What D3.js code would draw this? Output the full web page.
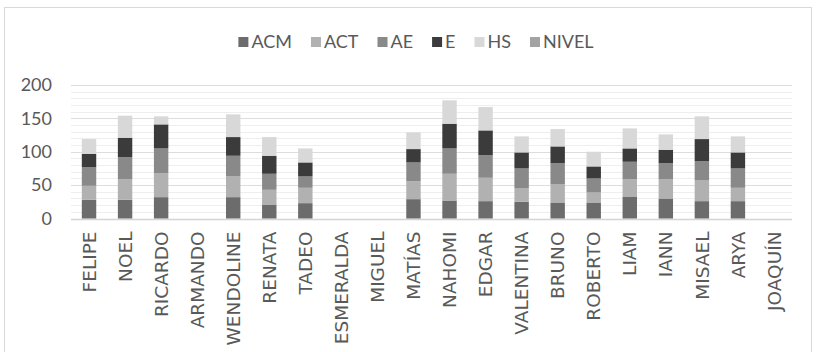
<!DOCTYPE html>
<html>
<head>
<meta charset="utf-8">
<script src="https://cdn.jsdelivr.net/npm/d3@7"></script>
<style>
  html, body { margin: 0; padding: 0; background: #fff; }
  svg { display: block; }
</style>
</head>
<body>
<svg id="chart" width="816" height="352"></svg>
<script>
// Students shown along the x axis
const students = ["FELIPE", "NOEL", "RICARDO", "ARMANDO", "WENDOLINE", "RENATA", "TADEO",
  "ESMERALDA", "MIGUEL", "MATÍAS", "NAHOMI", "EDGAR", "VALENTINA", "BRUNO", "ROBERTO",
  "LIAM", "IANN", "MISAEL", "ARYA", "JOAQUÍN"];

// Score series, stacked bottom to top in this order
const seriesNames = ["ACM", "ACT", "AE", "E", "HS", "NIVEL"];

const ACM   = [28, 28, 32, 0, 32, 21, 23, 0, 0, 29, 27, 26, 25, 24, 24, 33, 30, 26, 26, 0];
const ACT   = [21, 31, 36, 0, 31, 22, 23, 0, 0, 27, 40, 35, 20, 27, 15, 26, 29, 31, 20, 0];
const AE    = [28, 33, 37, 0, 31, 24, 17, 0, 0, 28, 38, 34, 30, 32, 21, 26, 24, 29, 29, 0];
const E     = [20, 29, 36, 0, 28, 27, 21, 0, 0, 20, 37, 37, 24, 25, 18, 20, 20, 33, 24, 0];
const HS    = [22, 33, 12, 0, 34, 28, 21, 0, 0, 25, 35, 35, 24, 26, 22, 30, 23, 34, 24, 0];
const NIVEL = [0, 0, 0, 0, 0, 0, 0, 0, 0, 0, 0, 0, 0, 0, 0, 0, 0, 0, 0, 0];

const yTicks = [0, 50, 100, 150, 200];
const yMinorTicks = d3.range(0, 201, 10);

const colors = ["#6c6c6c", "#b1b1b1", "#898989", "#3b3b3b", "#d8d8d8", "#a3a3a3"];

const valuesBySeries = { ACM, ACT, AE, E, HS, NIVEL };
const rows = students.map((name, i) => {
  const r = { name };
  seriesNames.forEach(s => { r[s] = valuesBySeries[s][i]; });
  return r;
});

const svg = d3.select("#chart");

// outer frame
svg.append("rect")
  .attr("x", 4.5).attr("y", 7.5)
  .attr("width", 807).attr("height", 400)
  .attr("fill", "none").attr("stroke", "#d9d9d9").attr("stroke-width", 1);

const plot = { left: 71, right: 792, top: 85, bottom: 218.5 };

const x = d3.scaleBand().domain(students).range([plot.left, plot.right]).paddingInner(0.6).paddingOuter(0.3);
const y = d3.scaleLinear().domain([0, 200]).range([plot.bottom, plot.top]);

// minor gridlines
svg.append("g").selectAll("line")
  .data(yMinorTicks.filter(v => v % 50 !== 0))
  .join("line")
  .attr("x1", plot.left).attr("x2", plot.right)
  .attr("y1", d => Math.round(y(d)) + 0.5).attr("y2", d => Math.round(y(d)) + 0.5)
  .attr("stroke", "#eeeeee").attr("stroke-width", 1);

// major gridlines
svg.append("g").selectAll("line")
  .data(yTicks)
  .join("line")
  .attr("x1", plot.left).attr("x2", plot.right)
  .attr("y1", d => Math.round(y(d)) + 0.5).attr("y2", d => Math.round(y(d)) + 0.5)
  .attr("stroke", d => d === 0 ? "#d4d4d4" : "#dddddd").attr("stroke-width", d => d === 0 ? 1.5 : 1.2);

// y axis labels
const yAxis = d3.axisLeft(y).tickValues(yTicks).tickSize(0).tickPadding(0);
const yg = svg.append("g").attr("transform", `translate(52,0)`).call(yAxis);
yg.select(".domain").remove();
yg.selectAll("text")
  .attr("font-family", "Lato, 'Open Sans', sans-serif")
  .attr("font-size", 18)
  .attr("fill", "#595959");

// stacked bars
const stack = d3.stack().keys(seriesNames);
const layers = stack(rows);

svg.append("g").selectAll("g")
  .data(layers)
  .join("g")
  .attr("fill", (d, i) => colors[i])
  .selectAll("rect")
  .data(d => d.map(p => ({ p, name: p.data.name })))
  .join("rect")
  .attr("x", d => x(d.name))
  .attr("width", x.bandwidth())
  .attr("y", d => y(d.p[1]))
  .attr("height", d => Math.max(0, y(d.p[0]) - y(d.p[1])));

// x axis category labels, rotated to read bottom to top
const xAxis = d3.axisBottom(x).tickSize(0).tickPadding(0);
const xg = svg.append("g").attr("transform", `translate(0,${plot.bottom})`).call(xAxis);
xg.select(".domain").remove();
xg.selectAll("text")
  .attr("font-family", "'DejaVu Sans', Verdana, sans-serif")
  .attr("font-size", 18.5)
  .attr("fill", "#595959")
  .attr("text-anchor", "end")
  .attr("dy", "0.36em")
  .attr("transform", "translate(0,13) rotate(-90)")
  .attr("x", 0).attr("y", 0);

// legend, laid out left to right and centred over the plot
const legend = svg.append("g").attr("transform", "translate(0,42)");
const gap = 19;
let cursor = 0;
seriesNames.forEach((s, i) => {
  const g = legend.append("g");
  g.append("rect").attr("x", 0).attr("y", -5).attr("width", 10).attr("height", 10).attr("fill", colors[i]);
  const t = g.append("text").attr("x", 13).attr("y", 0).attr("dy", "0.35em")
    .attr("font-family", "Lato, 'Open Sans', sans-serif")
    .attr("font-size", 18)
    .attr("fill", "#595959")
    .text(s);
  const w = 13 + t.node().getComputedTextLength();
  g.attr("transform", `translate(${cursor},0)`);
  cursor += w + gap;
});
const legendWidth = cursor - gap;
legend.attr("transform", `translate(${416 - legendWidth / 2},42)`);
</script>
</body>
</html>
